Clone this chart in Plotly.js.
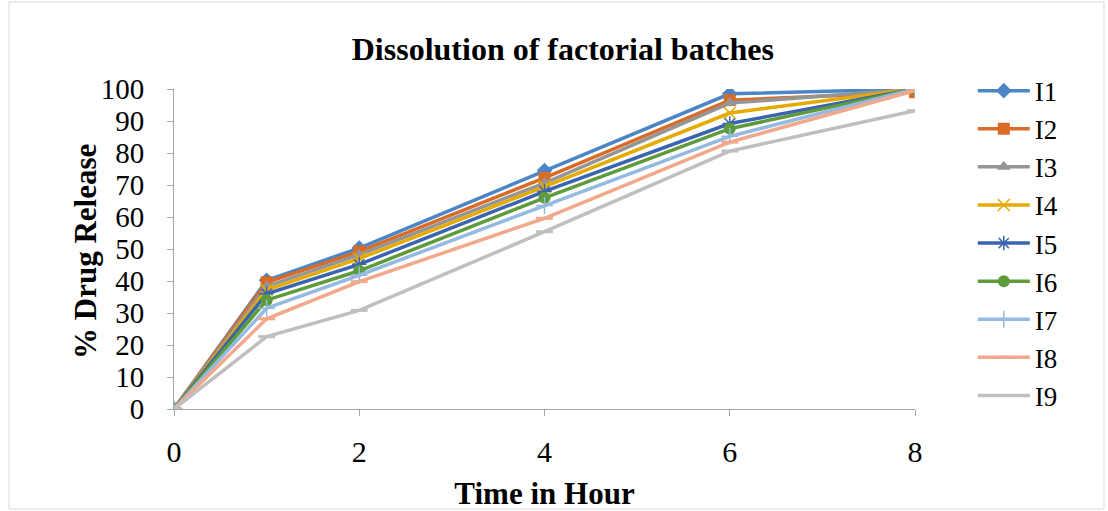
<!DOCTYPE html>
<html>
<head>
<meta charset="utf-8">
<script src="https://cdn.plot.ly/plotly-3.0.1.min.js"></script>
<style>html,body{margin:0;padding:0;background:#fff;}#chart{width:1108px;height:511px;}</style>
</head>
<body>
<div id="chart"></div>
<script>
const time = [0, 1, 2, 4, 6, 8];
const seriesNames = ["I1","I2","I3","I4","I5","I6","I7","I8","I9"];
const I1 = [0, 40.2, 50.3, 74.5, 98.5, 100];
const I2 = [0, 39.6, 49.2, 72.2, 96.5, 99.0];
const I3 = [0, 38.3, 48.2, 70.6, 95.6, 100];
const I4 = [0, 37.2, 47.0, 69.5, 92.5, 100];
const I5 = [0, 36.0, 45.2, 68.0, 89.2, 100];
const I6 = [0, 34.0, 43.2, 66.0, 87.6, 100];
const I7 = [0, 31.5, 41.8, 63.6, 85.2, 100];
const I8 = [0, 28.2, 39.8, 59.6, 83.4, 99.5];
const I9 = [0, 22.6, 30.8, 55.4, 80.6, 93.2];
const allValues = [I1,I2,I3,I4,I5,I6,I7,I8,I9];

const colors = ["#4A86C5","#D96B27","#959595","#E5AA00","#3A64B0","#5E9B3A","#94B9E2","#F2A88A","#BFBFBF"];
const markers = [
  {symbol:"diamond", size:12},
  {symbol:"square", size:12},
  {symbol:"triangle-up", size:12},
  {symbol:"x-thin-open", size:12, line:{width:1.5}},
  {symbol:"asterisk-open", size:12, line:{width:1.5}},
  {symbol:"circle", size:12},
  {symbol:"cross-thin-open", size:12, line:{width:1.5}},
  {symbol:"line-ew-open", size:12, line:{width:3}},
  {symbol:"line-ew-open", size:12, line:{width:3}}
];

const traces = seriesNames.map((n,i)=>{
  const m = Object.assign({color: colors[i]}, markers[i]);
  if (m.line) m.line.color = colors[i];
  return {
    x: time, y: allValues[i], name: n, type: "scatter", mode: "lines+markers",
    line: {color: colors[i], width: 3.5},
    marker: m
  };
});

const serif = "Liberation Serif, Times New Roman, serif";
const layout = {
  width: 1108, height: 511,
  margin: {l:174, r:193, t:89, b:102},
  paper_bgcolor: "#fff", plot_bgcolor: "#fff",
  title: {text: "<b>Dissolution of factorial batches</b>", font:{family: serif, size: 32, color:"#000"}, x: 0.508, xanchor:"center", y: 0.904, yanchor:"middle"},
  xaxis: {
    range: [0, 8], tickvals: [0,2,4,6,8], ticktext: ["0","2","4","6","8"],
    showgrid: false, zeroline: false, showline: true, linecolor: "#A6A6A6", linewidth: 1,
    ticks: "outside", ticklen: 6, tickcolor: "#A6A6A6", ticklabelstandoff: 10,
    tickfont: {family: serif, size: 30, color:"#000"},
    title: {text: "<b>Time in Hour</b>", font:{family: serif, size: 31, color:"#000"}, standoff: 16}
  },
  yaxis: {
    range: [0, 100], dtick: 10,
    showgrid: false, zeroline: false, showline: true, linecolor: "#A6A6A6", linewidth: 1,
    ticks: "outside", ticklen: 6, tickcolor: "#A6A6A6", ticklabelstandoff: 17,
    tickfont: {family: serif, size: 29, color:"#000"}
  },
  annotations: [{
    text: "<b>% Drug Release</b>", textangle: -90, showarrow: false,
    xref: "paper", yref: "paper", x: (85-174)/741, y: (409-252)/320,
    xanchor: "center", yanchor: "middle",
    font: {family: serif, size: 31, color: "#000"}
  }],
  legend: {
    x: 1.078, y: 1.07, xanchor: "left", yanchor: "top",
    font: {family: serif, size: 27, color:"#000"},
    tracegroupgap: 0, itemwidth: 52, bgcolor: "rgba(0,0,0,0)", maxheight: 480
  },
  shapes: [{
    type: "rect", xref: "paper", yref: "paper",
    x0: (9-174)/741, x1: (1104-174)/741, y0: (409-509)/320, y1: (409-2)/320,
    line: {color: "#D9D9D9", width: 1}
  }],
  showlegend: true
};

Plotly.newPlot("chart", traces, layout, {displayModeBar: false, staticPlot: true});
</script>
</body>
</html>
